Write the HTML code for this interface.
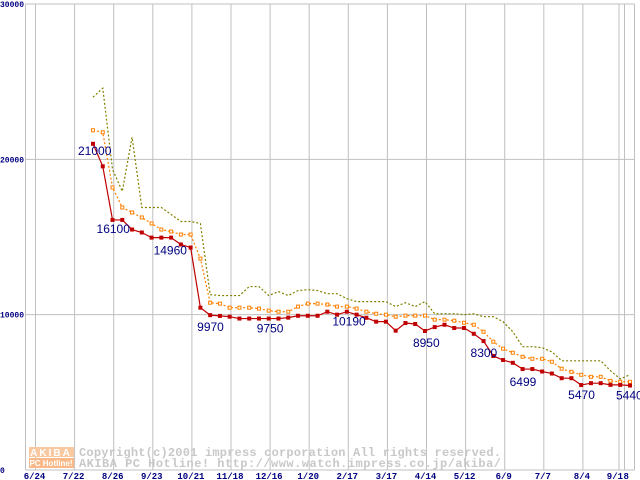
<!DOCTYPE html>
<html><head><meta charset="utf-8"><style>
html,body{margin:0;padding:0;background:#fff;}
svg{display:block;font-family:"Liberation Sans",sans-serif;}
</style></head><body>
<svg id="chart" width="640" height="480" viewBox="0 0 640 480" xmlns="http://www.w3.org/2000/svg"></svg>
<script>
const xTickLabels = ["6/24","7/22","8/26","9/23","10/21","11/18","12/16","1/20","2/17","3/17","4/14","5/12","6/9","7/7","8/4","9/1","8"];
const yTickValues = [0,10000,20000,30000];
const seriesMin = [21000,19550,16100,16100,15480,15290,14960,14960,14960,14520,14320,10450,9970,9920,9870,9750,9750,9750,9750,9750,9810,9930,9930,9930,10190,10000,10190,10000,9800,9550,9550,8970,9460,9400,8950,9200,9350,9140,9140,8770,8300,7340,7080,6900,6499,6499,6340,6210,5910,5910,5470,5590,5590,5480,5480,5440];
const seriesAvg = [21870,21740,18190,16900,16580,16260,15870,15480,15350,15160,15160,13610,10770,10710,10450,10450,10450,10390,10260,10190,10190,10520,10710,10710,10650,10520,10520,10390,10190,10060,10000,9870,9940,9940,9940,9680,9680,9610,9480,9350,8900,8260,7810,7550,7290,7160,7160,6970,6520,6320,6130,6000,6000,5740,5680,5680];
const seriesMax = [24000,24580,19350,17940,21420,16900,16900,16900,16450,16000,16000,15870,11290,11230,11230,11230,11810,11810,11230,11480,11230,11550,11610,11550,11350,11350,11030,10840,10840,10840,10840,10520,10770,10520,10840,10060,10060,10060,10000,10060,9870,9870,9550,8900,7940,7940,7870,7610,7030,7030,7030,7030,7030,6390,5870,6130];
const pointLabels = [[0,"21000",-15,11],[2,"16100",-16,13],[6,"14960",2,17],[12,"9970",-13,16],[18,"9750",-12,14],[24,"10190",5,14],[34,"8950",-12,16],[40,"8300",-13,16],[44,"6499",-13,17],[50,"5470",-13,14],[55,"5440",-14,14]];

const svg = document.getElementById('chart');
const NS = 'http://www.w3.org/2000/svg';
const x0 = 93, dx = 537/55;
const xs = i => x0 + i*dx;
const ys = v => 470 - v*(466/30000);
const tickX = i => 35.5 + i*39.1;
function mk(tag, attrs, parent){const e=document.createElementNS(NS,tag);for(const k in attrs)e.setAttribute(k,attrs[k]);(parent||svg).appendChild(e);return e;}

xTickLabels.forEach((t,i)=>{
  let x = i<16 ? tickX(i) : 624.5;
  if(i===15) x = 619;
  const l = mk('line',{x1:x,y1:4,x2:x,y2:470,stroke:'#c0c0c0','stroke-width':1});
  
  
  const tx = mk('text',{x:i===16?x-1:x-1,y:479,'font-size':9,'font-weight':'bold',fill:'#000080','font-family':'Liberation Mono, monospace','text-anchor':i>=15?'start':'middle'});
  if(i===15){tx.setAttribute('text-anchor','end');tx.setAttribute('x',x+4);}
  tx.textContent=t;
  
  
});
mk('line',{x1:634.5,y1:4,x2:634.5,y2:470,stroke:'#c0c0c0'});
mk('line',{x1:25.5,y1:4,x2:25.5,y2:470,stroke:'#c0c0c0'});
yTickValues.forEach(v=>{
  const y=ys(v);
  const l=mk('line',{x1:25.5,y1:y,x2:634.5,y2:y,stroke:'#c0c0c0'});
  
  
  const s=String(v);
  const attrs={x:0,y:y+3,'font-size':8,'font-weight':'bold',fill:'#000080','font-family':'Liberation Mono, monospace'};
  if(v!==0){attrs.textLength=24;attrs.lengthAdjust='spacingAndGlyphs';}
  const t=mk('text',attrs);
  t.textContent=s;
  
  
});

const wm = mk('g',{});


mk('rect',{x:29,y:447,width:45,height:10,fill:'#f8c8a0'},wm);
mk('rect',{x:29,y:458,width:45,height:10,fill:'#f8b888'},wm);
const a1=mk('text',{x:51,y:456,'font-size':10,'font-weight':'bold',fill:'#fff','text-anchor':'middle','letter-spacing':2},wm);a1.textContent='AKIBA';
const a2=mk('text',{x:51,y:466,'font-size':8,'font-weight':'bold',fill:'#fff','text-anchor':'middle'},wm);a2.textContent='PC Hotline!';
const w1=mk('text',{x:79,y:456,'font-size':12,'font-weight':'bold',fill:'#c8c8c8','font-family':'Liberation Mono, monospace',textLength:422},wm);w1.textContent='Copyright(c)2001 impress corporation All rights reserved.';
const w2=mk('text',{x:79,y:467,'font-size':12,'font-weight':'bold',fill:'#c8c8c8','font-family':'Liberation Mono, monospace',textLength:422},wm);w2.textContent='AKIBA PC Hotline!  http://www.watch.impress.co.jp/akiba/';

function line(data,color,dash,name){
  const p=mk('polyline',{points:data.map((v,i)=>xs(i)+','+ys(v)).join(' '),fill:'none',stroke:color,'stroke-width':1.2,'stroke-dasharray':dash});
  
  
}
line(seriesMax,'#808000','2 2','max-price-line');
line(seriesAvg,'#ff8000','2 2','avg-price-line');
seriesAvg.forEach((v,i)=>{
  const r=mk('rect',{x:xs(i)-1.5,y:ys(v)-1.5,width:3,height:3,fill:'#fff',stroke:'#ff8000','stroke-width':1});
  
  
});
line(seriesMin,'#c00000','','min-price-line');
seriesMin.forEach((v,i)=>{
  const r=mk('rect',{x:xs(i)-2,y:ys(v)-2,width:4,height:4,fill:'#c00000'});
  
  
});
pointLabels.forEach(([i,t,ox,oy])=>{
  const tx=mk('text',{x:xs(i)+ox,y:ys(seriesMin[i])+oy,'font-size':12,fill:'#000080'});
  tx.textContent=t;
  
  
});
</script>
</body></html>
